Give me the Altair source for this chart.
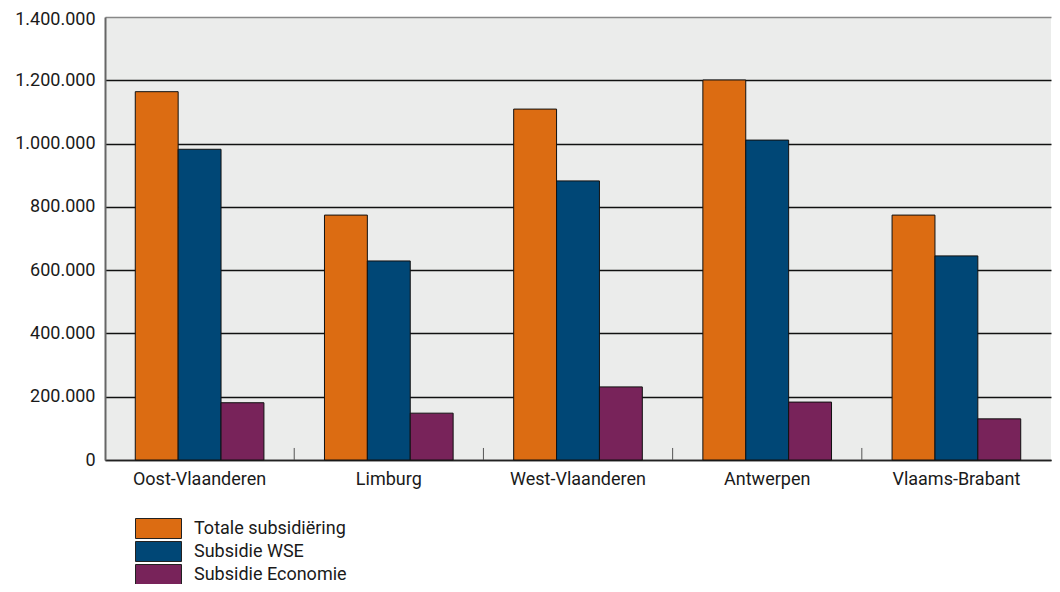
import altair as alt
import pandas as pd

regions = ["Oost-Vlaanderen", "Limburg", "West-Vlaanderen", "Antwerpen", "Vlaams-Brabant"]
series = ["Totale subsidiëring", "Subsidie WSE", "Subsidie Economie"]
totale = [1164000, 774000, 1109000, 1201000, 774000]
wse = [982000, 629000, 882000, 1011000, 645000]
economie = [181000, 148000, 231000, 183000, 130000]
colors = ["#dc6c12", "#004776", "#78235a"]
y_ticks = [0, 200000, 400000, 600000, 800000, 1000000, 1200000, 1400000]

rows = []
for i, r in enumerate(regions):
    for s, vals in zip(series, [totale, wse, economie]):
        rows.append({"region": r, "series": s, "value": vals[i]})
df = pd.DataFrame(rows)
tick_df = pd.DataFrame({"region": regions[:-1]})

FONT = "Roboto"
FS = 18
x_scale = alt.Scale(domain=regions, paddingInner=0.32, paddingOuter=0.16)

bars = alt.Chart(df).mark_bar(stroke="#111111", strokeWidth=1).encode(
    x=alt.X("region:N", sort=regions, scale=x_scale,
            axis=alt.Axis(title=None, labelAngle=0, ticks=False, domainColor="#222222",
                          domainWidth=1.5, labelFontSize=FS, labelPadding=10,
                          labelColor="#1a1a1a", labelFont=FONT)),
    xOffset=alt.XOffset("series:N", sort=series, scale=alt.Scale(paddingInner=0, paddingOuter=0)),
    y=alt.Y("value:Q", scale=alt.Scale(domain=[0, 1400000], nice=False),
            axis=alt.Axis(title=None, values=y_ticks, ticks=False, domainColor="#666666",
                          domainWidth=2, grid=True,
                          gridColor={"condition": {"test": "datum.value === 1400000", "value": "#888888"},
                                     "value": "#111111"},
                          labelOffset={"condition": {"test": "datum.value === 1400000", "value": 2},
                                       "value": 0},
                          gridWidth=1.5, labelFontSize=FS, labelPadding=10,
                          labelColor="#1a1a1a", labelFont=FONT,
                          labelExpr="join(split(format(datum.value, ','), ','), '.')")),
    color=alt.Color("series:N", sort=series, scale=alt.Scale(domain=series, range=colors),
                    legend=alt.Legend(title=None, orient="none", legendX=43, legendY=501,
                                      direction="vertical", padding=0,
                                      symbolType="M-2.3,-1H2.3V1H-2.3Z", symbolSize=400,
                                      symbolStrokeColor="#222222", symbolStrokeWidth=1,
                                      symbolOpacity=1,
                                      labelFontSize=FS, labelFont=FONT, labelColor="#1a1a1a",
                                      labelOffset=25, rowPadding=-2)),
)

ticks = alt.Chart(tick_df).mark_rule(color="#555555", strokeWidth=1, xOffset=30.3).encode(
    x=alt.X("region:N", sort=regions, scale=x_scale, bandPosition=1),
    y=alt.datum(0),
    y2=alt.datum(38000),
)

chart = alt.layer(bars, ticks).properties(
    width=946, height=443,
    autosize=alt.AutoSizeParams(type="none"),
    padding={"left": 97, "top": 9, "right": 1, "bottom": 124},
).configure_view(fill="#ebeceb", stroke=None)

chart.save("out.html", embed_options={"renderer": "svg", "actions": False})
